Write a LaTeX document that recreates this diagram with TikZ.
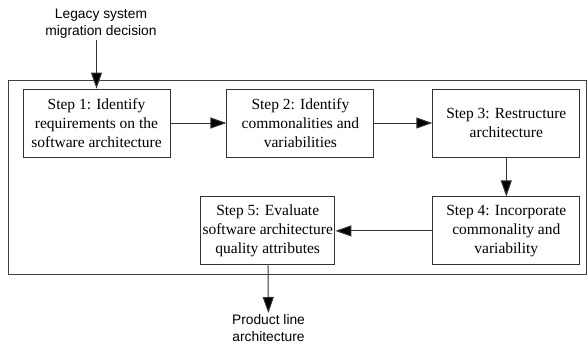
\documentclass[tikz,border=0pt]{standalone}
\usepackage{fontspec}
\setmainfont{Liberation Serif}
\newfontfamily\labelfont{Liberation Sans}
\usepackage{tikz}
\usetikzlibrary{positioning,arrows.meta}

\begin{document}
\begin{tikzpicture}[x=1pt, y=-1pt, >={Triangle[length=16pt,width=11pt,fill=black]},
    stepbox/.style={draw=black!80, line width=0.9pt, align=center, minimum width=147pt, minimum height=68pt, inner sep=2pt, font=\fontsize{15.5}{19}\selectfont},
    endlabel/.style={align=center, inner sep=1pt, font=\labelfont\fontsize{13.8}{17}\selectfont},
    flow/.style={->, draw=black!80, line width=1pt}]
  \useasboundingbox (0,0) rectangle (587,343);
  \draw[line width=0.9pt, black!75] (8,80) rectangle (586,274);
  \node[stepbox] (s1) at (96.5,123) {Step 1: Identify\\requirements on the\\software architecture};
  \node[stepbox, right=56pt of s1] (s2) {Step 2: Identify\\commonalities and\\variabilities};
  \node[stepbox, right=58pt of s2] (s3) {Step 3: Restructure\\architecture};
  \node[stepbox, below=39pt of s3] (s4) {Step 4: Incorporate\\commonality and\\variability};
  \node[stepbox, minimum width=129pt, left=97pt of s4] (s5) {Step 5: Evaluate\\software architecture\\quality attributes};
  \node[endlabel] (legacy) at (101,24) {Legacy system\\migration decision};
  \node[endlabel, anchor=north] (pla) at (268.5,313) {Product line\\architecture};
  \draw[flow] (s1 |- legacy.south) -- (s1);
  \draw[flow] (s1) -- (s2);
  \draw[flow] (s2) -- (s3);
  \draw[flow] (s3) -- (s4);
  \draw[flow] (s4) -- (s5);
  \draw[flow] (s5) -- (pla);
\end{tikzpicture}
\end{document}
